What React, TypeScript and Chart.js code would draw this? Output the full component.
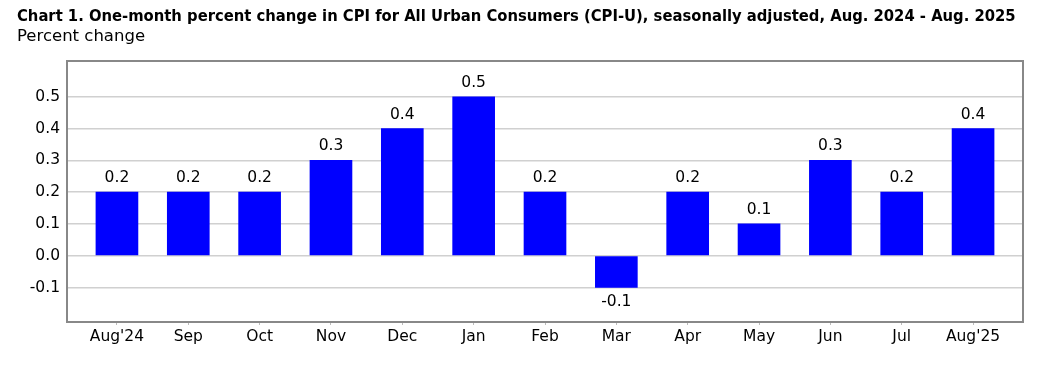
import React, { useEffect, useRef } from "react";
import { Chart, registerables } from "chart.js";

Chart.register(...registerables);

const TITLE =
  "Chart 1. One-month percent change in CPI for All Urban Consumers (CPI-U), seasonally adjusted, Aug. 2024 - Aug. 2025";
const SUBTITLE = "Percent change";
const MONTHS = ["Aug'24", "Sep", "Oct", "Nov", "Dec", "Jan", "Feb", "Mar", "Apr", "May", "Jun", "Jul", "Aug'25"];
const VALUES = [0.2, 0.2, 0.2, 0.3, 0.4, 0.5, 0.2, -0.1, 0.2, 0.1, 0.3, 0.2, 0.4];
const Y_TICKS = [-0.1, 0.0, 0.1, 0.2, 0.3, 0.4, 0.5];

const FONT = "'DejaVu Sans', sans-serif";
const TITLE_FONT = "'DejaVu Sans Condensed', 'DejaVu Sans', sans-serif";

const titlePlugin = {
  id: "titles",
  afterDraw(chart: any) {
    const ctx = chart.ctx;
    ctx.save();
    ctx.fillStyle = "#000";
    ctx.textAlign = "left";
    ctx.textBaseline = "alphabetic";
    ctx.font = `bold 16.45px ${TITLE_FONT}`;
    ctx.fillText(TITLE, 17, 20.5);
    ctx.font = `16.5px ${FONT}`;
    ctx.fillText(SUBTITLE, 17, 40.5);
    ctx.restore();
  },
};

const labelPlugin = {
  id: "barLabels",
  afterDatasetsDraw(chart: any) {
    const ctx = chart.ctx;
    const meta = chart.getDatasetMeta(0);
    ctx.save();
    ctx.fillStyle = "#000";
    ctx.textAlign = "center";
    ctx.textBaseline = "middle";
    ctx.font = `15.5px ${FONT}`;
    meta.data.forEach((el: any, i: number) => {
      const v = VALUES[i];
      const y = v >= 0 ? el.y - 14 : el.y + 14;
      ctx.fillText(v.toFixed(1), el.x, y);
    });
    ctx.restore();
  },
};

export default function App() {
  const ref = useRef<HTMLCanvasElement>(null);
  useEffect(() => {
    document.body.style.margin = "0";
    const chart = new Chart(ref.current!, {
      type: "bar",
      data: {
        datasets: [
          {
            data: VALUES.map((v, i) => ({ x: i, y: v })),
            backgroundColor: "#0000FF",
            borderWidth: 0,
            barThickness: 42,
          },
        ],
      },
      options: {
        responsive: false,
        animation: false,
        layout: { padding: { top: 61, right: 28, left: 0, bottom: 0 } },
        plugins: { legend: { display: false }, tooltip: { enabled: false } },
        scales: {
          x: {
            type: "linear",
            offset: false,
            min: -0.7,
            max: 12.7,
            afterBuildTicks(scale: any) {
              scale.ticks = MONTHS.map((_, i) => ({ value: i }));
            },
            afterFit(scale: any) {
              scale.height = 50;
            },
            ticks: {
              callback: (v: any) => MONTHS[v as number],
              color: "#000",
              font: { family: FONT, size: 15.5 },
              padding: 3,
              maxRotation: 0,
              autoSkip: false,
            },
            grid: {
              offset: false,
              drawOnChartArea: false,
              drawTicks: true,
              tickLength: 3,
              color: "#bbbbbb",
            },
            border: { color: "#888888", width: 2 },
          },
          y: {
            min: -0.2087,
            max: 0.613,
            afterBuildTicks(scale: any) {
              scale.ticks = Y_TICKS.map((v) => ({ value: v }));
            },
            afterFit(scale: any) {
              scale.width = 67;
            },
            ticks: {
              callback: (v: any) => Number(v).toFixed(1),
              color: "#000",
              font: { family: FONT, size: 15.5 },
              padding: 7,
            },
            grid: { color: "#d0d0d0", lineWidth: 1.5, tickLength: 0 },
            border: { color: "#888888", width: 2 },
          },
          y2: {
            position: "right",
            min: 0,
            max: 1,
            ticks: { display: false },
            grid: { display: false },
            border: { color: "#888888", width: 2 },
            afterFit(scale: any) {
              scale.width = 0;
            },
          },
          x2: {
            type: "linear",
            position: "top",
            min: 0,
            max: 1,
            ticks: { display: false },
            grid: { display: false },
            border: { color: "#888888", width: 2 },
            afterFit(scale: any) {
              scale.height = 0;
            },
          },
        },
      },
      plugins: [titlePlugin, labelPlugin],
    } as any);
    return () => chart.destroy();
  }, []);
  return (
    <div style={{ position: "absolute", left: 0, top: 0, width: 1051, height: 372, background: "#fff" }}>
      <canvas ref={ref} width={1051} height={372} style={{ display: "block" }} />
    </div>
  );
}
